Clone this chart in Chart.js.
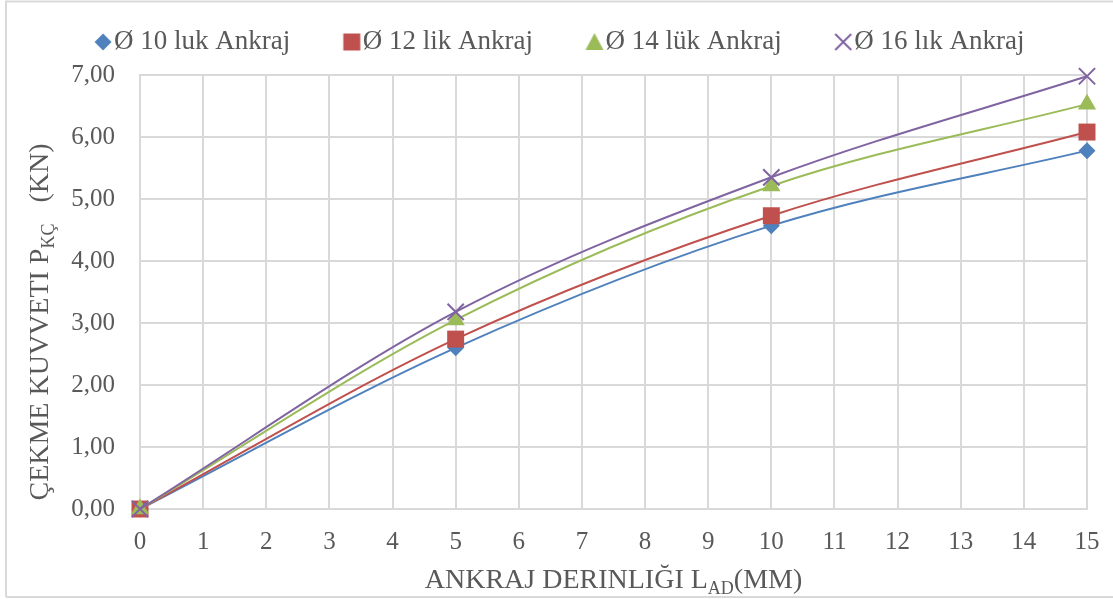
<!DOCTYPE html>
<html>
<head>
<meta charset="utf-8">
<script src="https://cdn.jsdelivr.net/npm/chart.js@4.4.0/dist/chart.umd.min.js"></script>
<style>
html,body{margin:0;padding:0;background:#fff;}
#wrap{width:1113px;height:599px;position:relative;}
</style>
</head>
<body>
<div id="wrap"><canvas id="c" width="1113" height="599"></canvas></div>
<script>
// ---- data ----
const depths = [0, 5, 10, 15];
const seriesNames = ['Ø 10 luk Ankraj', 'Ø 12 lik Ankraj', 'Ø 14 lük Ankraj', 'Ø 16 lık Ankraj'];
const phi10 = [0, 2.60, 4.57, 5.78];
const phi12 = [0, 2.74, 4.73, 6.08];
const phi14 = [0, 3.05, 5.21, 6.53];
const phi16 = [0, 3.18, 5.35, 6.98];
const xTickLabels = ['0','1','2','3','4','5','6','7','8','9','10','11','12','13','14','15'];
const yTickLabels = ['0,00','1,00','2,00','3,00','4,00','5,00','6,00','7,00'];
const xTitleParts = [['ANKRAJ DERINLIĞI L', false], ['AD', true], ['(MM)', false]];
const yTitleParts = [['ÇEKME KUVVETI P', false], ['KÇ', true], ['   (KN)', false]];

const colors = ['#4f81bd', '#c0504d', '#9bbb59', '#8064a2'];
const styles = ['rectRot', 'rect', 'triangle', 'crossRot'];
const radii = [8.5, 12, 10.5, 11.5];
const seriesValues = [phi10, phi12, phi14, phi16];
const FONT = "'Liberation Serif', 'Times New Roman', serif";
const TEXT = '#595959';
const GRID = '#d9d9d9';
const LEG_FONT = 27;
const LEG_PAD = 58;

// legend marker images (drawn slightly right of the box centre so they sit close to the text)
function legendMarker(i) {
  const c = document.createElement('canvas');
  c.width = 30; c.height = 22;
  const g = c.getContext('2d');
  const cx = 18, cy = 11;
  g.fillStyle = colors[i]; g.strokeStyle = colors[i];
  g.beginPath();
  if (i === 0) { g.moveTo(cx, cy-8.5); g.lineTo(cx+8.5, cy); g.lineTo(cx, cy+8.5); g.lineTo(cx-8.5, cy); g.closePath(); g.fill(); }
  else if (i === 1) { g.rect(cx-8.5, cy-8.5, 17, 17); g.fill(); }
  else if (i === 2) { g.moveTo(cx, cy-9); g.lineTo(cx+9, cy+8); g.lineTo(cx-9, cy+8); g.closePath(); g.fill(); }
  else { g.lineWidth = 2; g.moveTo(cx-8, cy-8); g.lineTo(cx+8, cy+8); g.moveTo(cx+8, cy-8); g.lineTo(cx-8, cy+8); g.stroke(); }
  return c;
}
const legendMarkers = [0,1,2,3].map(legendMarker);

function drawParts(ctx, parts, mainSize, subSize, subShift) {
  let total = 0;
  parts.forEach(([t, sub]) => {
    ctx.font = (sub ? subSize : mainSize) + 'px ' + FONT;
    total += ctx.measureText(t).width;
  });
  let x = -total / 2;
  parts.forEach(([t, sub]) => {
    ctx.font = (sub ? subSize : mainSize) + 'px ' + FONT;
    ctx.fillText(t, x, sub ? subShift : 0);
    x += ctx.measureText(t).width;
  });
}

const decor = {
  id: 'decor',
  beforeDraw(chart) {
    const ctx = chart.ctx;
    ctx.save();
    ctx.strokeStyle = GRID; ctx.lineWidth = 2;
    ctx.beginPath();
    ctx.moveTo(6, 597); ctx.lineTo(6, 1.5); ctx.lineTo(1113, 1.5);
    ctx.moveTo(6, 597); ctx.lineTo(1113, 597);
    ctx.stroke();
    ctx.restore();
  },
  afterDraw(chart) {
    const ctx = chart.ctx, a = chart.chartArea;
    ctx.save();
    ctx.fillStyle = TEXT;
    ctx.textBaseline = 'alphabetic';
    ctx.textAlign = 'left';
    ctx.translate((a.left + a.right) / 2, 588);
    drawParts(ctx, xTitleParts, 28, 18, 6);
    ctx.restore();
    ctx.save();
    ctx.fillStyle = TEXT;
    ctx.textBaseline = 'alphabetic';
    ctx.textAlign = 'left';
    ctx.translate(48, 322);
    ctx.rotate(-Math.PI / 2);
    drawParts(ctx, yTitleParts, 28, 18, 6);
    ctx.restore();
  }
};

const datasets = seriesValues.map((vals, i) => ({
  label: seriesNames[i],
  data: depths.map((d, k) => ({x: d, y: vals[k]})),
  showLine: true,
  borderColor: colors[i],
  backgroundColor: colors[i],
  borderWidth: 2,
  cubicInterpolationMode: 'monotone',
  pointStyle: styles[i],
  pointRadius: radii[i],
  pointHoverRadius: radii[i],
  pointBorderWidth: i === 3 ? 2 : 0,
  pointBorderColor: colors[i],
  pointBackgroundColor: colors[i],
  order: 4 - i,
  clip: false
}));

const LEFT_PAD = 37;
const RIGHT_PAD = 26;

new Chart(document.getElementById('c'), {
  type: 'scatter',
  data: { datasets },
  options: {
    responsive: false,
    animation: false,
    devicePixelRatio: 1,
    layout: { padding: { top: 42 - LEG_PAD - LEG_FONT / 2, right: RIGHT_PAD, bottom: 0, left: LEFT_PAD } },
    plugins: {
      tooltip: { enabled: false },
      title: { display: true, text: '', weight: 500, font: { size: 1 }, padding: { top: 75 - 65.5 - 1.2, bottom: 0 } },
      legend: {
        position: 'top',
        labels: {
          usePointStyle: true,
          boxWidth: 1,
          padding: LEG_PAD,
          color: TEXT,
          font: { family: FONT, size: LEG_FONT },
          generateLabels(chart) {
            const items = Chart.defaults.plugins.legend.labels.generateLabels(chart);
            items.forEach(it => { it.pointStyle = legendMarkers[it.datasetIndex]; });
            items.sort((p, q) => p.datasetIndex - q.datasetIndex);
            return items;
          }
        }
      }
    },
    scales: {
      x: {
        type: 'linear', min: 0, max: 15,
        afterFit(s) { s.height = 90; s.paddingRight = 0; s.paddingLeft = 0; },
        grid: { color: GRID, lineWidth: 2, drawTicks: false },
        border: { color: GRID, width: 2 },
        ticks: { stepSize: 1, padding: 18, color: TEXT, font: { family: FONT, size: 25 },
                 callback: (v) => xTickLabels[v] !== undefined ? xTickLabels[v] : '' , maxRotation: 0, autoSkip: false }
      },
      y: {
        min: 0, max: 7,
        afterFit(s) { s.width = 140 - LEFT_PAD; s.paddingTop = 0; s.paddingBottom = 0; },
        grid: { color: GRID, lineWidth: 2, drawTicks: false },
        border: { color: GRID, width: 2 },
        ticks: { stepSize: 1, padding: 25, color: TEXT, font: { family: FONT, size: 25 },
                 callback: (v) => yTickLabels[v] !== undefined ? yTickLabels[v] : '' }
      }
    }
  },
  plugins: [decor]
});
</script>
</body>
</html>
